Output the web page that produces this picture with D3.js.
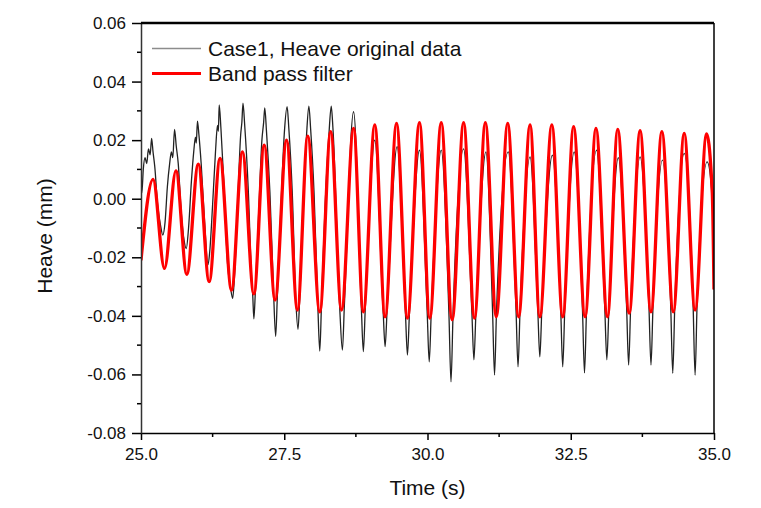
<!DOCTYPE html>
<html>
<head>
<meta charset="utf-8">
<script src="https://cdn.jsdelivr.net/npm/d3@7"></script>
<style>
  html, body { margin: 0; padding: 0; background: #fff; }
  svg { display: block; font-family: "Liberation Sans", Arial, sans-serif; }
</style>
</head>
<body>
<svg id="chart" width="761" height="508"></svg>
<script>
// ---- Data ----
const xTickValues = [25.0, 27.5, 30.0, 32.5, 35.0];
const xMinorTicks = [26.25, 28.75, 31.25, 33.75];
const yTickValues = [0.06, 0.04, 0.02, 0.00, -0.02, -0.04, -0.06, -0.08];
const yMinorTicks = [0.05, 0.03, 0.01, -0.01, -0.03, -0.05, -0.07];

const seriesNames = ["Case1, Heave original data", "Band pass filter"];

// Band pass filter: extrema (time s, heave mm)
const filterTime = [25.00, 25.21, 25.41, 25.61, 25.80, 26.00, 26.19, 26.38, 26.58, 26.77, 26.97,
  27.15, 27.34, 27.54, 27.73, 27.91, 28.12, 28.31, 28.50, 28.71, 28.88, 29.08, 29.26, 29.46, 29.65,
  29.86, 30.04, 30.24, 30.43, 30.63, 30.82, 31.01, 31.20, 31.40, 31.59, 31.79, 31.96, 32.17, 32.36,
  32.55, 32.75, 32.94, 33.14, 33.32, 33.52, 33.71, 33.90, 34.09, 34.29, 34.48, 34.67, 34.87, 34.97, 35.00];
const filterHeave = [-0.0210, 0.0066, -0.0238, 0.0095, -0.0258, 0.0118, -0.0283, 0.0138, -0.0312, 0.0160, -0.0325,
  0.0183, -0.0346, 0.0200, -0.0380, 0.0214, -0.0386, 0.0229, -0.0380, 0.0240, -0.0386, 0.0252, -0.0403, 0.0257, -0.0408,
  0.0260, -0.0408, 0.0260, -0.0414, 0.0260, -0.0408, 0.0260, -0.0403, 0.0257, -0.0403, 0.0252, -0.0403, 0.0252, -0.0403,
  0.0246, -0.0403, 0.0240, -0.0403, 0.0237, -0.0391, 0.0232, -0.0386, 0.0229, -0.0386, 0.0223, -0.0380, 0.0221, 0.0020, -0.0310];

// Original data: sampled points (time s, heave mm)
const originalTime = [25.000, 25.015, 25.040, 25.070, 25.100, 25.130, 25.160, 25.185, 25.210, 25.240, 25.290,
  25.340, 25.380, 25.420, 25.460, 25.500, 25.530, 25.555, 25.585, 25.615, 25.650, 25.700, 25.750, 25.790,
  25.830, 25.880, 25.920, 25.950, 25.965, 25.985, 26.010, 26.050, 26.110, 26.170, 26.200, 26.250, 26.300,
  26.335, 26.350, 26.365, 26.395, 26.450, 26.510, 26.560, 26.600, 26.630, 26.690, 26.740, 26.760, 26.780,
  26.810, 26.870, 26.930, 26.950, 26.970, 26.995, 27.060, 27.110, 27.140, 27.160, 27.190, 27.250, 27.310,
  27.350, 27.380, 27.440, 27.500, 27.550, 27.580, 27.640, 27.700, 27.740, 27.770, 27.830, 27.890, 27.930,
  27.960, 28.020, 28.085, 28.120, 28.150, 28.210, 28.280, 28.320, 28.350,
  28.465, 28.515, 28.550, 28.710, 28.845, 28.880, 28.915, 29.080, 29.225, 29.260, 29.295, 29.470,
  29.615, 29.650, 29.685, 29.860, 29.995, 30.030, 30.065, 30.240, 30.375, 30.410, 30.445, 30.630,
  30.775, 30.810, 30.845, 31.020, 31.135, 31.170, 31.205, 31.410, 31.545, 31.580, 31.615, 31.790,
  31.925, 31.960, 31.995, 32.180, 32.325, 32.360, 32.395, 32.560, 32.705, 32.740, 32.775, 32.950,
  33.095, 33.130, 33.165, 33.330, 33.475, 33.510, 33.545, 33.710, 33.865, 33.900, 33.935, 34.100,
  34.245, 34.280, 34.315, 34.480, 34.635, 34.670, 34.705, 34.880, 34.970, 35.000];
const originalHeave = [0.0050, 0.0020, 0.0100, 0.0140, 0.0120, 0.0170, 0.0150, 0.0206, 0.0160, 0.0110, -0.0020,
  -0.0090, -0.0124, -0.0080, 0.0040, 0.0120, 0.0160, 0.0140, 0.0237, 0.0180, 0.0120, -0.0040, -0.0140, -0.0170,
  -0.0100, 0.0060, 0.0160, 0.0210, 0.0190, 0.0265, 0.0220, 0.0120, -0.0080, -0.0225, -0.0180, -0.0020, 0.0160,
  0.0250, 0.0230, 0.0320, 0.0240, 0.0040, -0.0220, -0.0300, -0.0340, -0.0270, 0.0000, 0.0220, 0.0260, 0.0326,
  0.0250, 0.0040, -0.0270, -0.0330, -0.0410, -0.0320, -0.0020, 0.0200, 0.0260, 0.0310, 0.0230, 0.0020, -0.0300,
  -0.0470, -0.0330, -0.0040, 0.0220, 0.0314, 0.0240, 0.0020, -0.0340, -0.0446, -0.0340, -0.0040, 0.0220, 0.0316,
  0.0240, 0.0020, -0.0360, -0.0520, -0.0360, -0.0040, 0.0220, 0.0316, 0.0240,
  -0.0360, -0.0517, -0.0360, 0.0297, -0.0370, -0.0522, -0.0370, 0.0200, -0.0380, -0.0505, -0.0380, 0.0178,
  -0.0390, -0.0534, -0.0390, 0.0166, -0.0390, -0.0557, -0.0390, 0.0166, -0.0400, -0.0625, -0.0400, 0.0170,
  -0.0390, -0.0550, -0.0390, 0.0160, -0.0380, -0.0602, -0.0380, 0.0160, -0.0380, -0.0574, -0.0380, 0.0143,
  -0.0380, -0.0540, -0.0380, 0.0149, -0.0380, -0.0574, -0.0380, 0.0160, -0.0380, -0.0595, -0.0380, 0.0166,
  -0.0380, -0.0550, -0.0380, 0.0140, -0.0370, -0.0568, -0.0370, 0.0143, -0.0370, -0.0568, -0.0370, 0.0132,
  -0.0370, -0.0596, -0.0370, 0.0155, -0.0360, -0.0602, -0.0360, 0.0126, 0.0000, -0.0310];

// ---- Layout ----
const W = 761, H = 508;
const margin = { left: 141, right: 47, top: 23, bottom: 75 };
const svg = d3.select("#chart");

const x = d3.scaleLinear().domain([25, 35]).range([margin.left, W - margin.right]);
const y = d3.scaleLinear().domain([-0.08, 0.06]).range([H - margin.bottom, margin.top]);

svg.append("defs").append("clipPath").attr("id", "plotclip")
  .append("rect")
  .attr("x", margin.left).attr("y", margin.top)
  .attr("width", x(35) - x(25)).attr("height", y(-0.08) - y(0.06));

const original = originalTime.map((t, i) => [t, originalHeave[i]]);
const filtered = filterTime.map((t, i) => [t, filterHeave[i]]);

const line = d3.line().x(d => x(d[0])).y(d => y(d[1])).curve(d3.curveMonotoneX);

const plot = svg.append("g").attr("clip-path", "url(#plotclip)");
plot.append("path").datum(original)
  .attr("d", line).attr("fill", "none")
  .attr("stroke", "#222").attr("stroke-width", 1.3);
plot.append("path").datum(filtered)
  .attr("d", line).attr("fill", "none")
  .attr("stroke", "#ff0000").attr("stroke-width", 3.3).attr("stroke-linejoin", "round");

// ---- Axes ----
const fontSize = 17;
const xAxis = svg.append("g").attr("transform", `translate(0,${y(-0.08)})`)
  .call(d3.axisBottom(x).tickValues(xTickValues).tickFormat(d3.format(".1f"))
    .tickSizeInner(7).tickSizeOuter(0).tickPadding(8));
xAxis.append("g").selectAll("line").data(xMinorTicks).join("line")
  .attr("x1", d => x(d)).attr("x2", d => x(d)).attr("y1", 0).attr("y2", 4)
  .attr("stroke", "#000").attr("stroke-width", 1.5);

const yAxis = svg.append("g").attr("transform", `translate(${x(25)},0)`)
  .call(d3.axisLeft(y).tickValues(yTickValues).tickFormat(d3.format(".2f"))
    .tickSizeInner(9).tickSizeOuter(0).tickPadding(6));
yAxis.append("g").selectAll("line").data(yMinorTicks).join("line")
  .attr("x1", -4).attr("x2", 0).attr("y1", d => y(d)).attr("y2", d => y(d))
  .attr("stroke", "#000").attr("stroke-width", 1.5);

[xAxis, yAxis].forEach(g => {
  g.selectAll(".domain").attr("stroke", "#000").attr("stroke-width", 1.5);
  g.selectAll(".tick line").attr("stroke", "#000").attr("stroke-width", 1.5);
  g.selectAll(".tick text").attr("font-size", fontSize).attr("fill", "#111")
    .attr("font-family", "'Liberation Sans', Arial, sans-serif");
});
yAxis.select(".domain").attr("stroke", "#333");
yAxis.selectAll(".tick text").text(d => d3.format(".2f")(d).replace("−", "-"));

// top & right frame
svg.append("line").attr("x1", x(25)).attr("x2", x(35)).attr("y1", y(0.06)).attr("y2", y(0.06))
  .attr("stroke", "#000").attr("stroke-width", 2.5);
svg.append("line").attr("x1", x(35)).attr("x2", x(35)).attr("y1", y(0.06)).attr("y2", y(-0.08))
  .attr("stroke", "#000").attr("stroke-width", 1.5);

// ---- Titles ----
svg.append("text").attr("x", (x(25) + x(35)) / 2).attr("y", 495)
  .attr("text-anchor", "middle").attr("font-size", 21).attr("fill", "#111")
  .text("Time (s)");
svg.append("text").attr("transform", `translate(52,${236}) rotate(-90)`)
  .attr("text-anchor", "middle").attr("font-size", 21).attr("fill", "#111")
  .text("Heave (mm)");

// ---- Legend ----
const legend = svg.append("g");
const legendColors = ["#8c8c8c", "#ff0000"];
const legendWidths = [1.3, 2.8];
const legendY = [48.5, 73.5];
seriesNames.forEach((name, i) => {
  legend.append("line").attr("x1", 152).attr("x2", 201)
    .attr("y1", legendY[i]).attr("y2", legendY[i])
    .attr("stroke", legendColors[i]).attr("stroke-width", legendWidths[i]);
  legend.append("text").attr("x", 208).attr("y", legendY[i] + 7.5)
    .attr("font-size", 21).attr("fill", "#111").text(name);
});
</script>
</body>
</html>
